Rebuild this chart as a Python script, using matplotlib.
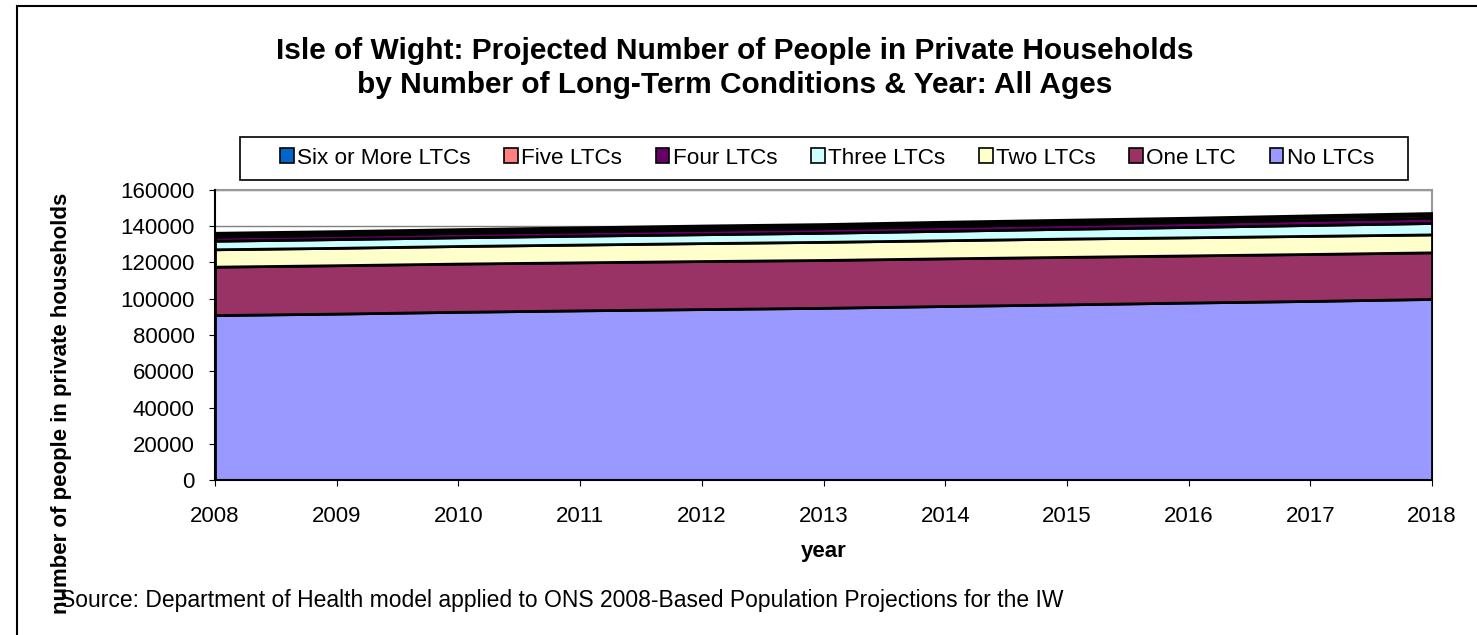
import matplotlib.pyplot as plt
import matplotlib.patches as mpatches
import numpy as np

plt.rcParams['font.family'] = ['Liberation Sans', 'DejaVu Sans']

years = [2008, 2009, 2010, 2011, 2012, 2013, 2014, 2015, 2016, 2017, 2018]
no_ltc = [91000, 91800, 92800, 93600, 94300, 95000, 96000, 96900, 97900, 98800, 99900]
one_ltc = [26700, 26700, 26600, 26500, 26500, 26400, 26300, 26200, 26000, 25900, 25700]
two_ltc = [9600, 9600, 9700, 9800, 9900, 10000, 10000, 10100, 10000, 10000, 9900]
three_ltc = [4700, 4800, 4800, 4900, 4900, 5000, 5200, 5400, 5700, 6000, 6300]
four_ltc = [2300, 2300, 2400, 2400, 2500, 2500, 2600, 2600, 2700, 2800, 2900]
five_ltc = [1300, 1300, 1300, 1400, 1400, 1400, 1500, 1500, 1500, 1600, 1600]
six_ltc = [800, 800, 800, 800, 900, 900, 900, 900, 900, 900, 1000]

series = [no_ltc, one_ltc, two_ltc, three_ltc, four_ltc, five_ltc, six_ltc]
labels = ['No LTCs', 'One LTC', 'Two LTCs', 'Three LTCs', 'Four LTCs', 'Five LTCs', 'Six or More LTCs']
colors = ['#9999FF', '#993366', '#FFFFCC', '#CCFFFF', '#660066', '#FF8080', '#0066CC']

W, H = 1477, 635
fig = plt.figure(figsize=(W / 100, H / 100), dpi=100)
ax = fig.add_axes([215 / W, 1 - 480 / H, (1432 - 215) / W, 290 / H])

# outer chart border (only top and left edges visible)
fig.patches.append(mpatches.Rectangle((17 / W, -0.1), 1.2, 1 - 6 / H + 0.1,
                                      transform=fig.transFigure, fill=False,
                                      edgecolor='black', linewidth=1.5))

base = np.zeros(len(years))
for vals, lab, col in zip(series, labels, colors):
    top = base + np.array(vals)
    ax.fill_between(years, base, top, facecolor=col, edgecolor='black', linewidth=2, zorder=3)
    base = top

ax.set_xlim(2008, 2018)
ax.set_ylim(0, 160000)
ax.set_xticks(years)
ax.set_yticks(np.arange(0, 160001, 20000))
ax.tick_params(axis='both', labelsize=16, length=4.5, color='black', direction='out')
ax.tick_params(axis='y', pad=10)
ax.tick_params(axis='x', pad=14)
ax.grid(axis='y', color='#808080', linewidth=1, zorder=0)
ax.set_axisbelow(True)
for s in ['top', 'right']:
    ax.spines[s].set_color('#999999')
    ax.spines[s].set_linewidth(1.5)
for s in ['left', 'bottom']:
    ax.spines[s].set_color('black')
    ax.spines[s].set_linewidth(1.5)
    ax.spines[s].set_zorder(5)

ax.set_xlabel('year', fontsize=16, fontweight='bold', labelpad=10)
fig.text(62 / W, 1 - 403 / H, 'number of people in private households', rotation=90,
         ha='center', va='center', fontsize=16, fontweight='bold')

fig.text(735 / W, 1 - 68 / H,
         'Isle of Wight: Projected Number of People in Private Households\n'
         'by Number of Long-Term Conditions & Year: All Ages',
         ha='center', va='center', fontsize=21.5, fontweight='bold', linespacing=1.28)

fig.text(60 / W, 1 - 600 / H,
         'Source: Department of Health model applied to ONS 2008-Based Population Projections for the IW',
         ha='left', va='center', fontsize=16.5)

# legend box drawn separately (wider side padding than matplotlib allows)
fig.patches.append(mpatches.Rectangle((240 / W, 1 - 180 / H), (1408 - 240) / W, 43 / H,
                                      transform=fig.transFigure, fill=False,
                                      edgecolor='black', linewidth=1.2))
handles = [mpatches.Patch(facecolor=c, edgecolor='black', linewidth=1.2, label=l)
           for l, c in zip(labels[::-1], colors[::-1])]
leg = fig.legend(handles=handles, loc='center', ncol=7,
                 bbox_to_anchor=(827 / W, 1 - 158 / H),
                 fontsize=16.2, frameon=False,
                 handlelength=0.6, handleheight=0.6, handletextpad=0.15,
                 columnspacing=1.5, borderpad=0.4)

plt.savefig('out.png', dpi=100)
